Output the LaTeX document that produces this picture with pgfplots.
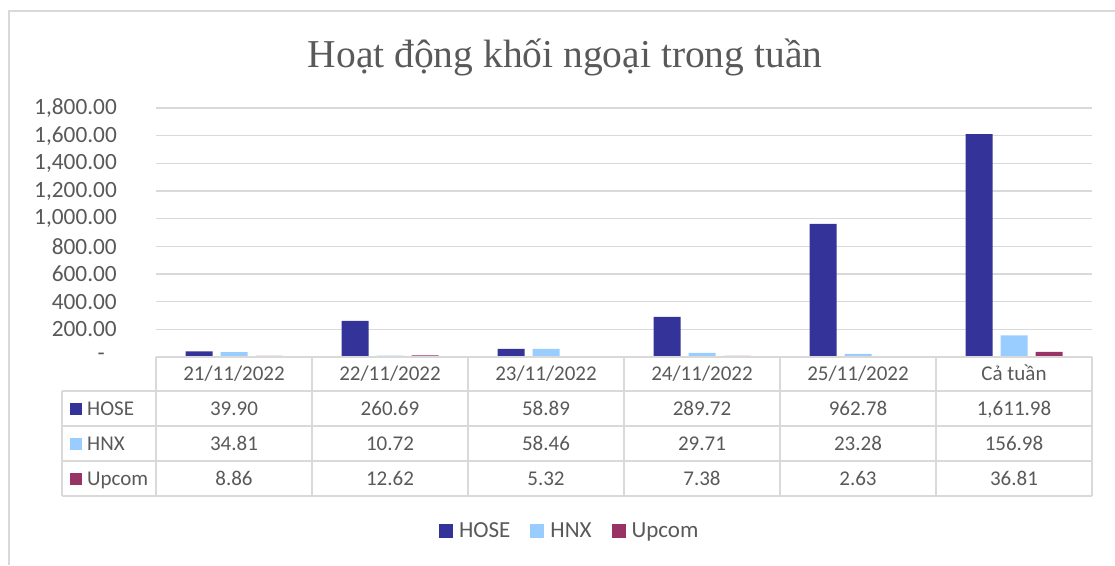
\documentclass[border=0pt]{standalone}
\usepackage{pgfplots}
\pgfplotsset{compat=1.18}
\usepackage{fontspec}
\setmainfont{Carlito}
\newfontfamily\titlefont{Liberation Serif}
\definecolor{hose}{HTML}{333399}
\definecolor{hnx}{HTML}{99CCFF}
\definecolor{upcom}{HTML}{993366}
\definecolor{txt}{HTML}{595959}
\definecolor{gridc}{HTML}{D9D9D9}
\begin{document}
\begin{tikzpicture}[x=1pt,y=1pt]
\useasboundingbox (0,0) rectangle (1115,565);
\draw[gridc,line width=1.5pt] (9,0) -- (9,554) -- (1115,554);
\node[txt,anchor=base,inner sep=0pt,font=\titlefont\fontsize{39.5}{44}\selectfont] at (565,497) {Hoạt động khối ngoại trong tuần};
\begin{axis}[
  at={(156pt,208pt)}, anchor=south west,
  scale only axis, width=936pt, height=249pt,
  xmin=-0.5, xmax=5.5, ymin=0, ymax=1800,
  ybar=8pt, bar width=27pt,
  axis line style={draw=none},
  major tick length=0pt,
  xtick=\empty,
  ytick={0,200,...,1800},
  yticklabels={{-\rule{12pt}{0pt}},200.00,400.00,600.00,800.00,{1,000.00},{1,200.00},{1,400.00},{1,600.00},{1,800.00}},
  ymajorgrids, grid style={gridc,line width=1.2pt},
  yticklabel style={text=txt,font=\fontsize{23.3}{27}\selectfont,anchor=east,inner sep=0pt,xshift=-39pt},
  legend columns=3,
  legend style={at={(0.441,-0.699)},anchor=center,draw=none,fill=none,
    font=\fontsize{23}{27}\selectfont,text=txt,
    /tikz/every odd column/.append style={column sep=6pt},
    /tikz/every even column/.append style={column sep=20pt},
    nodes={inner sep=0pt}},
  legend image code/.code={\fill[#1] (0pt,-7pt) rectangle (14pt,7pt);},
]
\addplot[fill=hose,draw=none] coordinates {(0,39.90) (1,260.69) (2,58.89) (3,289.72) (4,962.78) (5,1611.98)};
\addplot[fill=hnx,draw=none] coordinates {(0,34.81) (1,10.72) (2,58.46) (3,29.71) (4,23.28) (5,156.98)};
\addplot[fill=upcom,draw=none] coordinates {(0,8.86) (1,12.62) (2,5.32) (3,7.38) (4,2.63) (5,36.81)};
\legend{HOSE,HNX,Upcom}
\end{axis}
% data table grid
\draw[gridc,line width=1.5pt] (156,208) -- (1092,208);
\foreach \yy in {174,139,104,69} \draw[gridc,line width=1.5pt] (62,\yy) -- (1092,\yy);
\draw[gridc,line width=1.5pt] (62,174) -- (62,69);
\foreach \xx in {156,312,468,624,780,936,1092} \draw[gridc,line width=1.5pt] (\xx,208) -- (\xx,69);
\begin{scope}[every node/.style={txt,anchor=base,inner sep=0pt,font=\fontsize{21}{25}\selectfont}]
\foreach \lab [count=\i from 0] in {21/11/2022,22/11/2022,23/11/2022,24/11/2022,25/11/2022,Cả tuần}
  \node at (234+156*\i,184) {\lab};
\foreach \v [count=\i from 0] in {39.90,260.69,58.89,289.72,962.78,{1,611.98}}
  \node at (234+156*\i,150) {\v};
\foreach \v [count=\i from 0] in {34.81,10.72,58.46,29.71,23.28,156.98}
  \node at (234+156*\i,115) {\v};
\foreach \v [count=\i from 0] in {8.86,12.62,5.32,7.38,2.63,36.81}
  \node at (234+156*\i,80) {\v};
\node[anchor=base west] at (87,150) {HOSE};
\node[anchor=base west] at (87,115) {HNX};
\node[anchor=base west] at (87,80) {Upcom};
\end{scope}
\fill[hose] (70,150.5) rectangle (82,162.5);
\fill[hnx] (70,115.5) rectangle (82,127.5);
\fill[upcom] (70,80.5) rectangle (82,92.5);
\end{tikzpicture}
\end{document}
